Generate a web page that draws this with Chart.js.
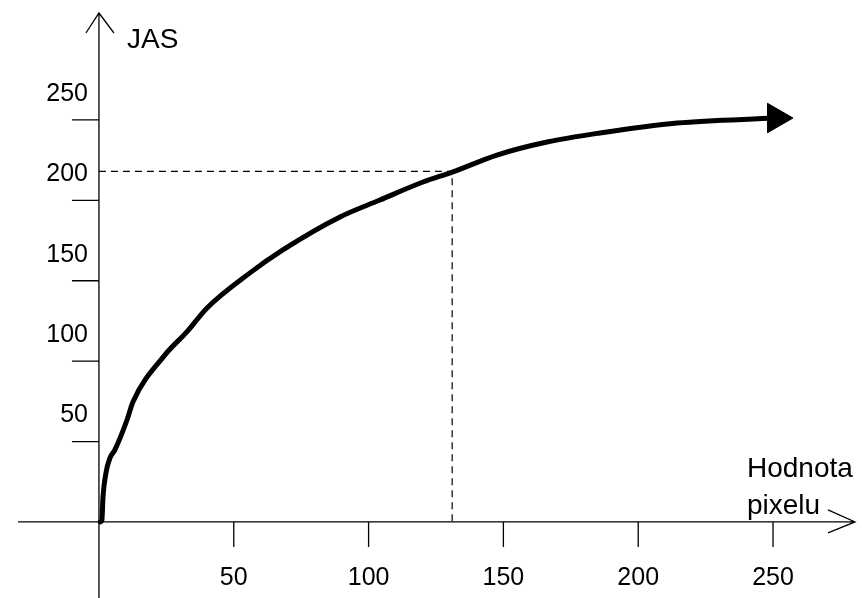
<!DOCTYPE html>
<html>
<head>
<meta charset="utf-8">
<script src="https://cdn.jsdelivr.net/npm/chart.js@4.4.1/dist/chart.umd.min.js"></script>
<style>
    html, body { margin: 0; padding: 0; background: #fff; }
    .chart-container { width: 862px; height: 598px; position: relative; }
</style>
</head>
<body>
<div class="chart-container"><canvas id="jasChart"></canvas></div>
<script>
// Curve values (pixel value -> JAS)
const pixelValues = [0.5, 1.1, 1.5, 2.6, 4.1, 5.9, 10.4, 12.6, 24.5, 32.6, 40.1, 56.0, 68.2, 89.4, 104.2, 120.2, 131.3, 147.6, 166.2, 185.8, 214.4, 251.1];
const jasValues = [0, 1.2, 15.5, 30.5, 39.8, 44.8, 63.4, 74.6, 103.9, 118.2, 133.1, 154.9, 169.2, 189.7, 200.2, 211.4, 217.7, 228.2, 236.3, 241.9, 248.1, 251.2];

// Tick labels
const xTicks = [50, 100, 150, 200, 250];
const yTicks = [50, 100, 150, 200, 250];

// Dashed guide (as drawn: meets the curve at the "200" label)
const guideX = 131;
const guideY = 218;

const tickFont = '25px "Liberation Sans", Arial, sans-serif';
const titleFont = '28px "Liberation Sans", Arial, sans-serif';

// Axes crossing at the origin, with open arrow heads
const crossAxes = {
    id: 'crossAxes',
    beforeDatasetsDraw(chart) {
        const { ctx, scales: { x, y } } = chart;
        const x0 = x.getPixelForValue(0);
        const y0 = y.getPixelForValue(0);
        ctx.save();
        ctx.strokeStyle = '#000';
        ctx.fillStyle = '#000';
        ctx.lineWidth = 1.3;

        // x axis
        const xTip = x.right - 7;
        ctx.beginPath();
        ctx.moveTo(x.left + 18, y0);
        ctx.lineTo(xTip, y0);
        ctx.moveTo(xTip - 27, y0 - 12);
        ctx.lineTo(xTip, y0);
        ctx.lineTo(xTip - 27, y0 + 11);
        ctx.stroke();

        // y axis
        const yTip = y.top + 13;
        ctx.beginPath();
        ctx.moveTo(x0, y.bottom);
        ctx.lineTo(x0, yTip);
        ctx.moveTo(x0 - 13, yTip + 20);
        ctx.lineTo(x0, yTip);
        ctx.lineTo(x0 + 15, yTip + 20);
        ctx.stroke();

        // tick marks
        ctx.beginPath();
        xTicks.forEach(v => {
            const px = x.getPixelForValue(v);
            ctx.moveTo(px, y0);
            ctx.lineTo(px, y0 + 25);
        });
        yTicks.forEach(v => {
            const py = y.getPixelForValue(v);
            ctx.moveTo(x0, py);
            ctx.lineTo(x0 - 27, py);
        });
        ctx.stroke();

        // tick labels
        ctx.font = tickFont;
        ctx.textBaseline = 'middle';
        ctx.textAlign = 'center';
        xTicks.forEach(v => ctx.fillText(String(v), x.getPixelForValue(v), y0 + 56));
        ctx.textAlign = 'right';
        yTicks.forEach(v => ctx.fillText(String(v), x0 - 11, y.getPixelForValue(v) - 26));

        // axis titles
        ctx.font = titleFont;
        ctx.textAlign = 'left';
        ctx.fillText('JAS', x0 + 28, yTip + 27);
        ctx.textBaseline = 'alphabetic';
        ctx.fillText('Hodnota', xTip - 108, y0 - 45);
        ctx.fillText('pixelu', xTip - 108, y0 - 8);
        ctx.restore();
    }
};

const curvePoints = pixelValues.map((v, i) => ({ x: v, y: jasValues[i] }));
const guidePoints = [
    { x: 0, y: guideY },
    { x: guideX, y: guideY },
    { x: guideX, y: 0 }
];

const ctx = document.getElementById('jasChart').getContext('2d');
new Chart(ctx, {
    type: 'line',
    data: {
        datasets: [{
            label: 'JAS',
            data: curvePoints,
            borderColor: '#000',
            backgroundColor: '#000',
            borderWidth: 5,
            borderCapStyle: 'round',
            cubicInterpolationMode: 'monotone',
            fill: false,
            pointStyle: 'triangle',
            rotation: 90,
            pointRadius: curvePoints.map((p, i) => i === curvePoints.length - 1 ? 17 : 0),
            pointBorderWidth: 1
        }, {
            label: 'guide',
            data: guidePoints,
            borderColor: '#000',
            borderWidth: 1.2,
            borderDash: [7, 5],
            tension: 0,
            pointRadius: 0,
            fill: false
        }]
    },
    options: {
        responsive: true,
        maintainAspectRatio: false,
        animation: false,
        layout: { padding: 0, autoPadding: false },
        scales: {
            x: { type: 'linear', display: false, min: -36.7, max: 283.0 },
            y: { type: 'linear', display: false, min: -47.3, max: 324.6 }
        },
        plugins: {
            legend: { display: false },
            tooltip: { enabled: false }
        }
    },
    plugins: [crossAxes]
});
</script>
</body>
</html>
